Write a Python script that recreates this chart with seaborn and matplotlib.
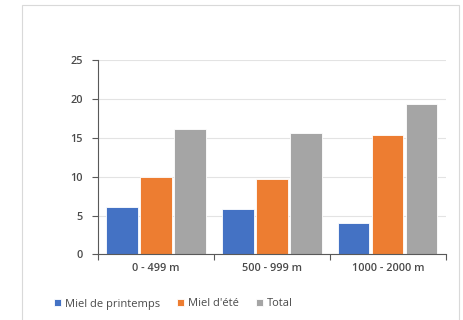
import matplotlib
matplotlib.use("Agg")
import matplotlib.pyplot as plt
import matplotlib.patches as mpatches
import seaborn as sns
import pandas as pd

# Altitude bands and honey yields
categories = ["0 - 499 m", "500 - 999 m", "1000 - 2000 m"]
series_names = ["Miel de printemps", "Miel d'été", "Total"]
printemps = [6.1, 5.8, 4.0]
ete = [9.9, 9.7, 15.4]
total = [16.1, 15.6, 19.4]
y_ticks = [0, 5, 10, 15, 20, 25]
colors = ["#4472C4", "#ED7D31", "#A5A5A5"]

rows = []
for name, vals in zip(series_names, [printemps, ete, total]):
    for cat, v in zip(categories, vals):
        rows.append({"Altitude": cat, "Série": name, "Valeur": v})
df = pd.DataFrame(rows)

sns.set_theme(style="white")
plt.rcParams["font.family"] = ["Open Sans", "DejaVu Sans"]

fig = plt.figure(figsize=(4.63, 3.2), dpi=100)
fig.patch.set_facecolor("white")
ax = fig.add_axes([0.2117, 0.2053, 0.751, 0.6063])

sns.barplot(data=df, x="Altitude", y="Valeur", hue="Série", order=categories,
            hue_order=series_names, palette=colors, width=0.88, gap=0.08,
            edgecolor="white", linewidth=0.6, saturation=1, ax=ax, legend=True)

text_color = "#4A4A4A"
ax.set_ylim(0, 25)
ax.set_xlim(-0.5, 2.5)
ax.set_yticks(y_ticks)
ax.set_yticklabels([str(t) for t in y_ticks], fontsize=7.8, fontweight="semibold", color=text_color)
ax.set_xticks(range(len(categories)))
ax.set_xticklabels(categories, fontsize=7.8, fontweight="semibold", color=text_color)
ax.set_xlabel("")
ax.set_ylabel("")
ax.yaxis.grid(True, color="#E3E3E3", linewidth=0.8)
ax.set_axisbelow(True)

for side in ["top", "right"]:
    ax.spines[side].set_visible(False)
for side in ["left", "bottom"]:
    ax.spines[side].set_color("#595959")
    ax.spines[side].set_linewidth(0.8)

ax.tick_params(axis="y", which="major", left=True, length=4, width=0.8, color="#595959", pad=7)
ax.tick_params(axis="x", which="major", bottom=False, length=0, pad=6)
ax.set_xticks([-0.5, 0.5, 1.5, 2.5], minor=True)
ax.tick_params(axis="x", which="minor", bottom=True, length=4, width=0.8, color="#595959")

handles, labels = ax.get_legend_handles_labels()
ax.legend_.remove()
fig.legend(handles, labels, loc="center left", bbox_to_anchor=(0.095, 0.05),
           ncol=3, frameon=False, fontsize=8, handlelength=0.65, handleheight=0.65,
           handletextpad=0.35, columnspacing=1.5, labelcolor=text_color)

# light frame around the chart area
frame = mpatches.Rectangle((22 / 463, -0.05), (459 - 22) / 463, 1 - 5 / 320 + 0.05,
                           transform=fig.transFigure, fill=False,
                           edgecolor="#D9D9D9", linewidth=0.8, clip_on=False)
fig.patches.append(frame)

fig.savefig("out.png", dpi=100)
